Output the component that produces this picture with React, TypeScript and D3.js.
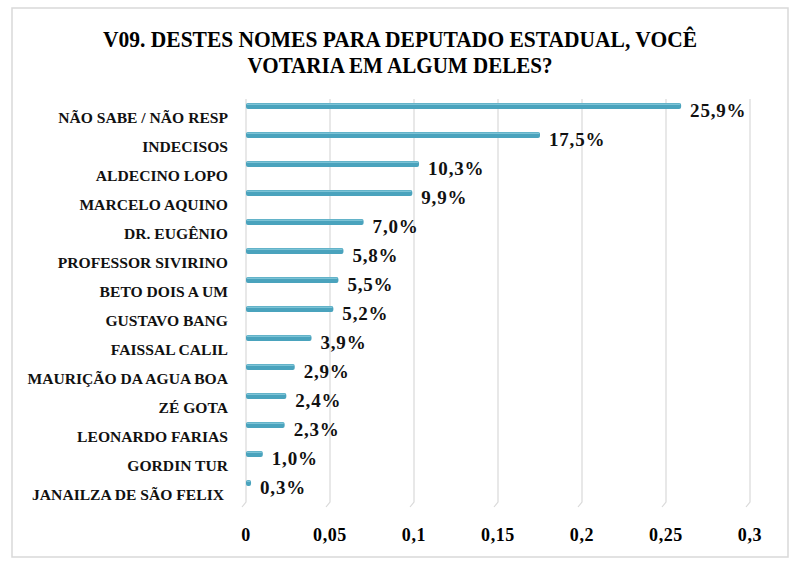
import React from "react";
import * as d3 from "d3";

const categories = [
  "NÃO SABE / NÃO RESP",
  "INDECISOS",
  "ALDECINO LOPO",
  "MARCELO AQUINO",
  "DR. EUGÊNIO",
  "PROFESSOR SIVIRINO",
  "BETO DOIS A UM",
  "GUSTAVO BANG",
  "FAISSAL CALIL",
  "MAURIÇÃO DA AGUA BOA",
  "ZÉ GOTA",
  "LEONARDO FARIAS",
  "GORDIN TUR",
  "JANAILZA DE SÃO FELIX",
];
const values = [0.259, 0.175, 0.103, 0.099, 0.07, 0.058, 0.055, 0.052, 0.039, 0.029, 0.024, 0.023, 0.01, 0.003];
const valueLabels = ["25,9%", "17,5%", "10,3%", "9,9%", "7,0%", "5,8%", "5,5%", "5,2%", "3,9%", "2,9%", "2,4%", "2,3%", "1,0%", "0,3%"];
const ticks = [0, 0.05, 0.1, 0.15, 0.2, 0.25, 0.3];
const tickLabels = ["0", "0,05", "0,1", "0,15", "0,2", "0,25", "0,3"];
const titleLines = ["V09. DESTES NOMES PARA DEPUTADO ESTADUAL, VOCÊ", "VOTARIA EM ALGUM DELES?"];
const titleWidths = [594, 305];

const W = 800;
const H = 563;
const FONT = "'Liberation Serif', 'DejaVu Serif', serif";

export default function App() {
  const x = d3.scaleLinear().domain([0, 0.3]).range([246, 750]);
  const y = d3.scalePoint<string>().domain(categories).range([106, 483]);
  const barH = 6;

  return (
    <svg width={W} height={H} style={{ position: "absolute", left: 0, top: 0, background: "#fff" }}>
      <rect x={12} y={8} width={776} height={549} fill="#fff" stroke="#d9d9d9" strokeWidth={1.5} />
      {titleLines.map((t, i) => (
        <text
          key={i}
          x={400}
          y={47 + i * 26}
          textAnchor="middle"
          fontFamily={FONT}
          fontWeight="bold"
          fontSize={24}
          textLength={titleWidths[i]}
          lengthAdjust="spacingAndGlyphs"
          fill="#000"
        >
          {t}
        </text>
      ))}
      {ticks.map((t, i) => (
        <g key={i}>
          <path
            d={`M${x(t)},99 V502 L${x(t) - 4},507`}
            fill="none"
            stroke="#d9d9d9"
            strokeWidth={1.2}
          />
          <text
            x={x(t)}
            y={541}
            textAnchor="middle"
            fontFamily={FONT}
            fontWeight="bold"
            fontSize={18}
            letterSpacing={0.6}
            fill="#000"
          >
            {tickLabels[i]}
          </text>
        </g>
      ))}
      {categories.map((c, i) => {
        const yc = y(c)!;
        const x0 = x(0);
        const x1 = x(values[i]);
        return (
          <g key={c}>
            <rect x={x0} y={yc - barH / 2} width={Math.max(x1 - x0, 2)} height={barH} rx={2} fill="#4aa3bd" />
            <rect x={x0 + 1} y={yc - barH / 2 + 0.5} width={Math.max(x1 - x0 - 2, 1)} height={1.5} fill="#7cc3d6" />
            <text
              x={i === categories.length - 1 ? 224 : 228}
              y={yc + 17}
              textAnchor="end"
              fontFamily={FONT}
              fontWeight="bold"
              fontSize={15.6}
              fill="#111"
            >
              {c}
            </text>
            <text
              x={x1 + 9}
              y={yc + 11}
              fontFamily={FONT}
              fontWeight="bold"
              fontSize={19}
              letterSpacing={0.8}
              fill="#111"
            >
              {valueLabels[i]}
            </text>
          </g>
        );
      })}
    </svg>
  );
}
